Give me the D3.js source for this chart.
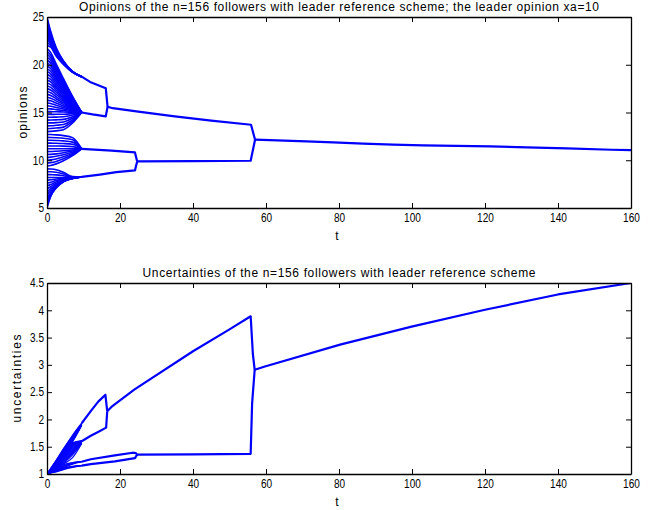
<!DOCTYPE html>
<html><head><meta charset="utf-8">
<script src="https://cdn.jsdelivr.net/npm/d3@7/dist/d3.min.js"></script>
<style>
body{margin:0;background:#fff}
svg{display:block}
text{font-family:"Liberation Sans",Arial,Helvetica,sans-serif;font-size:12px;fill:#000}
</style></head><body>
<svg id="c" width="666" height="510"></svg>
<script>
// ---- tick labels ----
const tTicks = [0, 20, 40, 60, 80, 100, 120, 140, 160];
const opinionTicks = [5, 10, 15, 20, 25];
const uncertaintyTicks = [1, 1.5, 2, 2.5, 3, 3.5, 4, 4.5];

// ---- time samples for the early (fan) part of each follower's curve ----
const fanTimes = [0, 1, 2.5, 4.5, 7, 9.5];

// ---- opinions of individual followers during the fan (values at fanTimes) ----
const opinionFan = [
  // upper group -> upper cluster
  [25.0, 23.5, 21.8, 20.4, 19.3, 18.75],
  [24.7, 23.34, 21.71, 20.36, 19.29, 18.75],
  [24.4, 23.17, 21.62, 20.33, 19.28, 18.75],
  [24.1, 23.0, 21.53, 20.29, 19.27, 18.75],
  [23.8, 22.84, 21.44, 20.26, 19.26, 18.75],
  [23.5, 22.68, 21.35, 20.22, 19.26, 18.75],
  [23.2, 22.51, 21.26, 20.18, 19.25, 18.75],
  [22.9, 22.35, 21.17, 20.15, 19.24, 18.75],
  [22.6, 22.18, 21.08, 20.11, 19.23, 18.75],
  [22.3, 22.02, 20.99, 20.08, 19.22, 18.75],
  [22.0, 21.85, 20.9, 20.04, 19.21, 18.75],
  // group converging to 15
  [21.7, 21.3, 20.09, 18.55, 16.68, 15],
  [21.4, 21.02, 19.86, 18.39, 16.6, 15],
  [21.1, 20.73, 19.64, 18.23, 16.53, 15],
  [20.8, 20.45, 19.41, 18.07, 16.45, 15],
  [20.5, 20.17, 19.18, 17.92, 16.38, 15],
  [20.2, 19.89, 18.95, 17.76, 16.3, 15],
  [19.9, 19.61, 18.72, 17.6, 16.23, 15],
  [19.6, 19.32, 18.5, 17.44, 16.15, 15],
  [19.3, 19.04, 18.27, 17.28, 16.08, 15],
  [19.0, 18.76, 18.04, 17.12, 16.0, 15],
  [18.7, 18.48, 17.81, 16.96, 15.93, 15],
  [18.4, 18.2, 17.58, 16.8, 15.85, 15],
  [18.1, 17.91, 17.36, 16.64, 15.78, 15],
  [17.8, 17.63, 17.13, 16.48, 15.7, 15],
  [17.5, 17.35, 16.9, 16.33, 15.63, 15],
  [17.2, 17.07, 16.67, 16.17, 15.55, 15],
  [16.9, 16.79, 16.44, 16.01, 15.48, 15],
  [16.6, 16.5, 16.22, 15.85, 15.4, 15],
  [16.3, 16.22, 15.99, 15.69, 15.33, 15],
  [16.0, 15.94, 15.76, 15.53, 15.25, 15],
  [15.7, 15.66, 15.53, 15.37, 15.18, 15],
  [15.4, 15.38, 15.3, 15.21, 15.1, 15],
  [15.1, 15.09, 15.08, 15.05, 15.03, 15],
  [14.8, 14.8, 14.81, 14.82, 14.89, 15],
  [14.5, 14.5, 14.52, 14.55, 14.73, 15],
  [14.2, 14.21, 14.23, 14.28, 14.56, 15],
  [13.9, 13.91, 13.94, 14.01, 14.4, 15],
  [13.6, 13.61, 13.66, 13.74, 14.23, 15],
  [13.3, 13.32, 13.37, 13.47, 14.07, 15],
  [13.0, 13.02, 13.08, 13.2, 13.9, 15],
  // group converging to 11.2
  [12.7, 12.69, 12.66, 12.58, 12.37, 11.2],
  [12.4, 12.39, 12.36, 12.3, 12.14, 11.2],
  [12.1, 12.09, 12.07, 12.03, 11.9, 11.2],
  [11.8, 11.79, 11.78, 11.75, 11.67, 11.2],
  [11.5, 11.5, 11.49, 11.48, 11.43, 11.2],
  [11.2, 11.2, 11.2, 11.2, 11.2, 11.2],
  [10.9, 10.91, 10.94, 10.99, 11.08, 11.2],
  [10.6, 10.62, 10.67, 10.78, 10.96, 11.2],
  [10.3, 10.33, 10.41, 10.57, 10.84, 11.2],
  [10.0, 10.04, 10.14, 10.36, 10.72, 11.2],
  [9.7, 9.75, 9.88, 10.15, 10.6, 11.2],
  [9.4, 9.45, 9.62, 9.94, 10.48, 11.2],
  // lower group -> ~8.2
  [9.1, 9.08, 9.01, 8.74, 8.29, 8.25],
  [8.8, 8.79, 8.74, 8.56, 8.26, 8.25],
  [8.5, 8.49, 8.47, 8.38, 8.23, 8.25],
  [8.2, 8.2, 8.2, 8.2, 8.2, 8.25],
  [7.9, 7.95, 8.03, 8.12, 8.19, 8.25],
  [7.6, 7.7, 7.87, 8.05, 8.17, 8.25],
  [7.3, 7.46, 7.72, 7.98, 8.16, 8.25],
  [7.0, 7.22, 7.57, 7.91, 8.14, 8.25],
  [6.7, 7.0, 7.45, 7.86, 8.13, 8.25],
  [6.4, 6.8, 7.35, 7.82, 8.12, 8.25],
  [6.1, 6.6, 7.27, 7.8, 8.11, 8.25],
  [5.8, 6.45, 7.2, 7.78, 8.1, 8.25],
  [5.5, 6.33, 7.15, 7.77, 8.1, 8.25],
  [5.2, 6.25, 7.12, 7.76, 8.1, 8.25],
  [5.0, 6.2, 7.1, 7.75, 8.1, 8.25]
];

// ---- opinion cluster paths after the fan: [t, opinion] ----
const opinionUpperCluster = [[9.5, 18.75], [11.8, 18.2], [16.1, 17.55], [16.6, 15.6]];
const opinion15Cluster = [[9.5, 15.0], [12.5, 14.8], [16.1, 14.6], [16.6, 15.6]];
const opinionUpperMerged = [[16.6, 15.6], [18, 15.45], [25, 15.1], [35, 14.6], [45, 14.15], [55.9, 13.72], [57, 12.15]];
const opinion11Cluster = [[9.5, 11.2], [17.7, 11.0], [24.1, 10.82], [24.7, 9.88]];
const opinion8Cluster = [[9.5, 8.25], [14.5, 8.5], [19, 8.75], [24.1, 8.94], [24.7, 9.88]];
const opinionLowerMerged = [[24.7, 9.88], [40, 9.9], [55.8, 9.95], [57, 12.15]];
const opinionFinal = [[57, 12.15], [71.1, 11.98], [78.4, 11.87], [86.6, 11.74], [94.8, 11.63], [103, 11.56],
  [121.4, 11.45], [131.4, 11.35], [142.4, 11.24], [154.7, 11.1], [160, 11.07]];

// ---- uncertainties during the fan (values at fanTimes) ----
const uncertaintyFan = [
  [1, 1.10, 1.25, 1.46, 1.71, 1.93],
  [1, 1.095, 1.24, 1.445, 1.695, 1.925],
  [1, 1.09, 1.23, 1.43, 1.68, 1.92],
  [1, 1.085, 1.22, 1.415, 1.665, 1.915],
  [1, 1.08, 1.21, 1.40, 1.65, 1.91],
  [1, 1.075, 1.20, 1.385, 1.635, 1.905],
  [1, 1.07, 1.19, 1.37, 1.62, 1.90],
  [1, 1.065, 1.18, 1.355, 1.605, 1.895],
  [1, 1.06, 1.17, 1.34, 1.59, 1.89],
  [1, 1.072, 1.21, 1.44, 1.57, 1.61],
  [1, 1.07, 1.20, 1.42, 1.56, 1.60],
  [1, 1.066, 1.19, 1.40, 1.55, 1.60],
  [1, 1.062, 1.18, 1.38, 1.54, 1.60],
  [1, 1.058, 1.17, 1.36, 1.52, 1.60],
  [1, 1.055, 1.16, 1.34, 1.50, 1.60],
  [1, 1.052, 1.15, 1.32, 1.48, 1.59],
  [1, 1.05, 1.145, 1.30, 1.46, 1.59],
  [1, 1.05, 1.14, 1.28, 1.44, 1.58],
  [1, 1.05, 1.13, 1.26, 1.42, 1.58],
  [1, 1.048, 1.125, 1.24, 1.40, 1.575],
  [1, 1.046, 1.12, 1.22, 1.38, 1.57],
  [1, 1.044, 1.11, 1.20, 1.35, 1.565],
  [1, 1.042, 1.105, 1.185, 1.30, 1.56],
  [1, 1.04, 1.10, 1.17, 1.21, 1.225],
  [1, 1.035, 1.09, 1.15, 1.20, 1.225],
  [1, 1.03, 1.08, 1.14, 1.19, 1.225],
  [1, 1.03, 1.07, 1.12, 1.18, 1.225],
  [1, 1.03, 1.07, 1.11, 1.14, 1.152],
  [1, 1.025, 1.06, 1.10, 1.135, 1.152],
  [1, 1.02, 1.05, 1.09, 1.13, 1.152],
  [1, 1.02, 1.04, 1.08, 1.12, 1.152]
];

// ---- uncertainty cluster paths: [t, uncertainty] ----
const uncUpperCluster = [[9.5, 1.93], [12.2, 2.17], [14.1, 2.33], [16.0, 2.45], [16.5, 2.15]];
const unc15Cluster = [[9.5, 1.6], [12, 1.7], [14, 1.77], [16.2, 1.85], [16.5, 2.15]];
const uncUpperMerged = [[16.5, 2.15], [18, 2.25], [24, 2.55], [40, 3.25], [50, 3.65], [55.8, 3.89], [56.4, 3.2], [56.9, 2.91]];
const unc11Cluster = [[9.5, 1.225], [12, 1.27], [18.6, 1.34], [23.5, 1.39], [24.3, 1.385], [24.7, 1.355]];
const unc8Cluster = [[9.5, 1.152], [12, 1.18], [18.6, 1.23], [24.1, 1.29], [24.7, 1.355]];
const uncLowerMerged = [[24.7, 1.355], [40, 1.36], [55.8, 1.37], [56.2, 2.3], [56.9, 2.91]];
const uncFinal = [[56.9, 2.91], [59.7, 2.97], [80.3, 3.37], [99.9, 3.70], [120, 4.01], [140, 4.29], [160, 4.5]];

const svg = d3.select("#c");
const BLUE = "#0000ff";

// narrow the tick digits like the reference's condensed font
const labelWidth = s => Array.from(String(s)).reduce((w, c) => w + (c === "." ? 2.8 : 5.6), 0);

function panel(o) {
  const x = d3.scaleLinear().domain([0, 160]).range([47, 631]);
  const y = d3.scaleLinear().domain(o.domain).range([o.bottom, o.top]);
  const g = svg.append("g");

  g.append("clipPath").attr("id", o.id).append("rect")
    .attr("x", 47).attr("y", o.top).attr("width", 584).attr("height", o.bottom - o.top);

  const plot = g.append("g").attr("clip-path", `url(#${o.id})`);
  const fanLine = d3.line().x(d => x(d[0])).y(d => y(d[1])).curve(d3.curveMonotoneX);
  const pathLine = d3.line().x(d => x(d[0])).y(d => y(d[1]));

  plot.selectAll("path.fan").data(o.fan).join("path").attr("class", "fan")
    .attr("d", r => fanLine(r.map((v, i) => [fanTimes[i], v])))
    .attr("fill", "none").attr("stroke", BLUE).attr("stroke-width", o.fanWidth);

  plot.selectAll("path.cl").data(o.clusters).join("path").attr("class", "cl")
    .attr("d", pathLine)
    .attr("fill", "none").attr("stroke", BLUE).attr("stroke-width", 2.2)
    .attr("stroke-linejoin", "round");

  const styleAxis = a => {
    a.selectAll("path.domain").attr("stroke", "#000").attr("stroke-width", 1.3);
    a.selectAll(".tick line").attr("stroke", "#000").attr("stroke-width", 1);
    a.selectAll("text").attr("font-size", 12.5).attr("fill", "#000").attr("font-family", null)
      .each(function () {
        const s = d3.select(this).text();
        if (s) d3.select(this).attr("textLength", labelWidth(s)).attr("lengthAdjust", "spacingAndGlyphs");
      });
  };

  g.append("g").attr("transform", `translate(0,${o.bottom})`)
    .call(d3.axisBottom(x).tickValues(tTicks).tickSizeInner(-5).tickSizeOuter(0).tickPadding(5))
    .call(styleAxis);
  g.append("g").attr("transform", `translate(0,${o.top})`)
    .call(d3.axisTop(x).tickValues(tTicks).tickSizeInner(-5).tickSizeOuter(0).tickFormat(""))
    .call(styleAxis);
  g.append("g").attr("transform", `translate(47,0)`)
    .call(d3.axisLeft(y).tickValues(o.ticks).tickSizeInner(-5).tickSizeOuter(0).tickPadding(3).tickFormat(d3.format("")))
    .call(styleAxis);
  g.append("g").attr("transform", `translate(631,0)`)
    .call(d3.axisRight(y).tickValues(o.ticks).tickSizeInner(-5).tickSizeOuter(0).tickFormat(""))
    .call(styleAxis);

  g.append("text").attr("x", 339).attr("y", o.titleY).attr("text-anchor", "middle")
    .attr("textLength", o.titleLen).attr("lengthAdjust", "spacing").text(o.title);
  g.append("text").attr("x", 337).attr("y", o.xLabelY).attr("text-anchor", "middle").text("t");
  g.append("text").attr("transform", `translate(${o.yLabelX},${(o.top + o.bottom) / 2}) rotate(-90)`)
    .attr("text-anchor", "middle").attr("textLength", o.yLabelLen).attr("lengthAdjust", "spacing")
    .text(o.yLabel);
}

panel({
  id: "clipTop", top: 17, bottom: 208, domain: [5, 25], ticks: opinionTicks,
  fan: opinionFan, fanWidth: 1.6,
  clusters: [opinionUpperCluster, opinion15Cluster, opinionUpperMerged, opinion11Cluster, opinion8Cluster, opinionLowerMerged, opinionFinal],
  title: "Opinions of the n=156 followers with leader reference scheme; the leader opinion xa=10",
  titleY: 11, titleLen: 520, xLabelY: 240, yLabel: "opinions", yLabelX: 27, yLabelLen: 52
});

panel({
  id: "clipBottom", top: 283, bottom: 474, domain: [1, 4.5], ticks: uncertaintyTicks,
  fan: uncertaintyFan, fanWidth: 1.3,
  clusters: [uncUpperCluster, unc15Cluster, uncUpperMerged, unc11Cluster, unc8Cluster, uncLowerMerged, uncFinal],
  title: "Uncertainties of the n=156 followers with leader reference scheme",
  titleY: 277, titleLen: 393, xLabelY: 506, yLabel: "uncertainties", yLabelX: 21, yLabelLen: 88
});
</script>
</body></html>
